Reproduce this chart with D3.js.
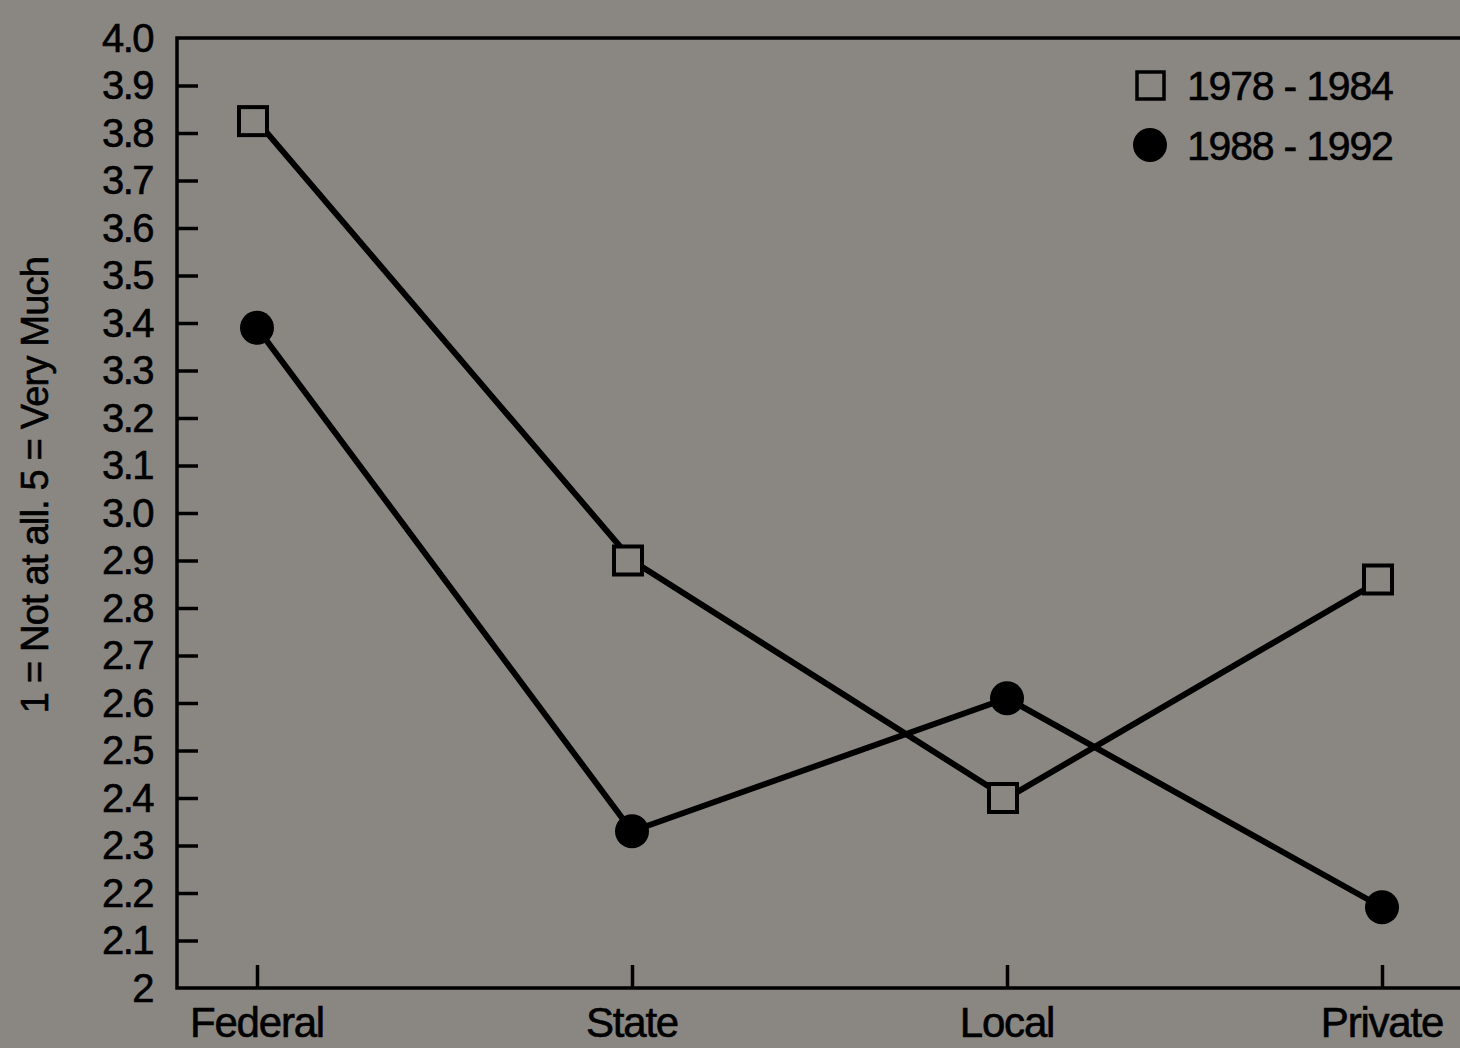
<!DOCTYPE html>
<html><head><meta charset="utf-8">
<script src="https://cdn.jsdelivr.net/npm/d3@7"></script>
<style>body{margin:0;background:#8a8782;}svg{display:block;}</style>
</head><body>
<svg id="c" width="1460" height="1048"></svg>
<script>
const categories = ["Federal","State","Local","Private"];
const series1Label = "1978 - 1984";
const series1 = [3.825, 2.90, 2.40, 2.86];
const series2Label = "1988 - 1992";
const series2 = [3.39, 2.33, 2.61, 2.17];
const yTicks = [2,2.1,2.2,2.3,2.4,2.5,2.6,2.7,2.8,2.9,3.0,3.1,3.2,3.3,3.4,3.5,3.6,3.7,3.8,3.9,4.0];
const yTitle = "1 = Not at all. 5 = Very Much";

(function(){
const svg = d3.select("#c");
svg.append("rect").attr("width",1460).attr("height",1048).attr("fill","#8a8782");
const pl=177, pt=38, pb=988, pr=1470;
const font = "Helvetica, Arial, 'Liberation Sans', sans-serif";
const y = d3.scaleLinear().domain([2,4]).range([pb,pt]);
const x = d3.scalePoint().domain(categories).range([257,1382]);
const txt = sel => sel.attr("font-family",font).attr("fill","#000").attr("stroke","#000").attr("stroke-width",0.6);

// frame
svg.append("path").attr("d",`M${pr},${pt}H${pl}V${pb}H${pr}`)
  .attr("fill","none").attr("stroke","#000").attr("stroke-width",3.5);

// y axis
const yAx = svg.append("g").attr("transform",`translate(${pl},0)`)
  .call(d3.axisRight(y).tickValues(yTicks).tickSize(21).tickFormat(d=> d===2? "2" : d3.format(".1f")(d)));
yAx.select(".domain").remove();
yAx.selectAll(".tick line").attr("stroke","#000").attr("stroke-width",3.5)
  .attr("display",d=> (d===2||d===4)?"none":null);
yAx.selectAll(".tick text").attr("x",-24).attr("text-anchor","end").attr("dy","0.33em")
  .attr("font-size",40).attr("letter-spacing",-1.5).call(txt);

// x axis
const xAx = svg.append("g").attr("transform",`translate(0,${pb})`)
  .call(d3.axisTop(x).tickSize(23).tickFormat(""));
xAx.select(".domain").remove();
xAx.selectAll(".tick line").attr("stroke","#000").attr("stroke-width",3.5);
svg.append("g").selectAll("text").data(categories).join("text")
  .attr("x",d=>x(d)).attr("y",1037).attr("text-anchor","middle")
  .attr("font-size",42).attr("letter-spacing",-1.2).call(txt)
  .text(d=>d);

// y title
svg.append("text").attr("transform","translate(48,485) rotate(-90)").attr("text-anchor","middle")
  .attr("font-size",38).attr("letter-spacing",-0.8).call(txt).text(yTitle);

const line = d3.line().x((d,i)=>x(categories[i])).y(d=>y(d));
svg.append("path").datum(series1).attr("d",line).attr("fill","none").attr("stroke","#000").attr("stroke-width",6);
svg.append("path").datum(series2).attr("d",line).attr("fill","none").attr("stroke","#000").attr("stroke-width",6);

svg.append("g").selectAll("rect").data(series1).join("rect")
  .attr("x",(d,i)=>x(categories[i])-18).attr("y",d=>y(d)-14).attr("width",28).attr("height",28)
  .attr("fill","#8a8782").attr("stroke","#000").attr("stroke-width",4);
svg.append("g").selectAll("circle").data(series2).join("circle")
  .attr("cx",(d,i)=>x(categories[i])).attr("cy",d=>y(d)).attr("r",17).attr("fill","#000");

// legend
svg.append("rect").attr("x",1137).attr("y",72).attr("width",27).attr("height",27)
  .attr("fill","none").attr("stroke","#000").attr("stroke-width",3.5);
svg.append("circle").attr("cx",1150).attr("cy",145).attr("r",17).attr("fill","#000");
svg.append("text").attr("x",1187).attr("y",100).attr("font-size",41)
  .attr("letter-spacing",-1.2).call(txt).text(series1Label);
svg.append("text").attr("x",1187).attr("y",160).attr("font-size",41)
  .attr("letter-spacing",-1.2).call(txt).text(series2Label);
})();
</script>
</body></html>
